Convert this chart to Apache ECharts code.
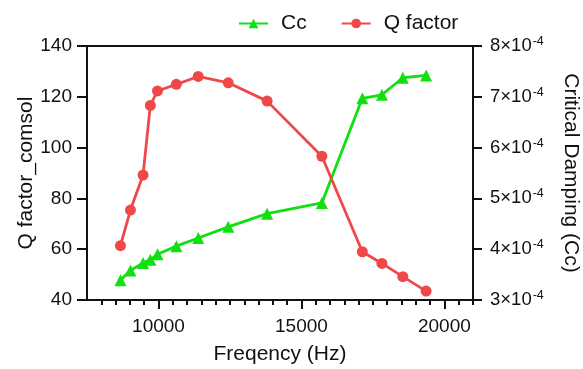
<!DOCTYPE html>
<html>
<head>
<meta charset="utf-8">
<script src="https://cdn.jsdelivr.net/npm/echarts@6/dist/echarts.min.js"></script>
<style>
  html, body { margin: 0; padding: 0; background: #fff; }
  #chart { width: 583px; height: 369px; }
</style>
</head>
<body>
<div id="chart"></div>
<script>
// Measured frequencies (Hz) shared by both series
const frequency = [8670, 9020, 9460, 9715, 9965, 10625, 11390, 12440, 13800, 15714, 17130, 17815, 18545, 19360];
// Q factor from the COMSOL model (left axis)
const qFactor = [61.4, 75.4, 89.2, 116.6, 122.3, 124.9, 128.0, 125.5, 118.3, 96.6, 59.0, 54.4, 49.2, 43.5];
// Critical damping Cc (right axis)
const criticalDamping = [3.39e-4, 3.58e-4, 3.73e-4, 3.79e-4, 3.90e-4, 4.06e-4, 4.22e-4, 4.44e-4, 4.70e-4, 4.91e-4, 6.97e-4, 7.04e-4, 7.375e-4, 7.42e-4];

// Tick positions on the frequency axis
const freqLabels = [10000, 15000, 20000];
const freqMinorTicks = [];
for (let f = 8000; f <= 21000; f += 500) freqMinorTicks.push(f);

const FONT = '"Liberation Sans", Arial, sans-serif';
const INK = '#111';
const GREEN = '#10e010';
const RED = '#f04848';

const chart = echarts.init(document.getElementById('chart'), null, { renderer: 'canvas' });

const axisLine = { show: true, lineStyle: { color: INK, width: 2 } };

chart.setOption({
  animation: false,
  backgroundColor: '#fff',
  textStyle: { fontFamily: FONT },
  legend: {
    left: 233,
    top: 8,
    itemWidth: 29,
    itemHeight: 12,
    itemGap: 34,
    textStyle: { fontSize: 21, color: INK, fontFamily: FONT, padding: [0, 0, 0, 8] },
    data: ['Cc', 'Q factor']
  },
  grid: {
    left: 87, right: 110, top: 46, bottom: 69,
    outerBoundsMode: 'none',
    containLabel: false,
    show: true, borderColor: INK, borderWidth: 2, backgroundColor: 'transparent'
  },
  xAxis: [
    {
      type: 'value', min: 7500, max: 21000, interval: 500,
      name: 'Freqency (Hz)', nameLocation: 'middle', nameGap: 44, nameMoveOverlap: false,
      nameTextStyle: { fontSize: 21, color: INK, fontFamily: FONT },
      axisLine: axisLine,
      axisTick: { show: true, customValues: freqMinorTicks, length: 5, lineStyle: { color: INK, width: 2 } },
      axisLabel: {
        customValues: freqLabels, fontSize: 19, color: INK, margin: 17, fontFamily: FONT,
        formatter: function (v) { return String(v); }
      },
      splitLine: { show: false }
    },
    {
      type: 'value', min: 7500, max: 21000, interval: 500, position: 'bottom',
      axisLine: { show: false },
      axisTick: { show: true, customValues: freqLabels, length: 9, lineStyle: { color: INK, width: 2 } },
      axisLabel: { show: false },
      splitLine: { show: false }
    }
  ],
  yAxis: [
    {
      type: 'value', min: 40, max: 140, interval: 20, position: 'left',
      name: 'Q factor_comsol', nameLocation: 'middle', nameGap: 50, nameRotate: 90, nameMoveOverlap: false,
      nameTextStyle: { fontSize: 21, color: INK, fontFamily: FONT },
      axisLine: axisLine,
      axisTick: { show: true, length: 10, lineStyle: { color: INK, width: 2 } },
      axisLabel: { fontSize: 19, color: INK, margin: 15, fontFamily: FONT },
      splitLine: { show: false }
    },
    {
      type: 'value', min: 3e-4, max: 8e-4, interval: 1e-4, position: 'right',
      name: 'Critical Damping (Cc)', nameLocation: 'middle', nameGap: 87, nameRotate: -90, nameMoveOverlap: false,
      nameTextStyle: { fontSize: 21, color: INK, fontFamily: FONT },
      axisLine: axisLine,
      axisTick: { show: true, length: 9, lineStyle: { color: INK, width: 2 } },
      axisLabel: {
        margin: 17,
        formatter: function (v) {
          const m = Math.round(v * 1e4);
          return '{a|' + m + '×10}{b|-4}';
        },
        rich: {
          a: { fontSize: 18.5, color: INK, fontFamily: FONT, lineHeight: 22 },
          b: { fontSize: 12.5, color: INK, fontFamily: FONT, verticalAlign: 'top', padding: [0, 0, 9, 1] }
        }
      },
      splitLine: { show: false }
    }
  ],
  series: [
    {
      name: 'Cc', type: 'line', xAxisIndex: 0, yAxisIndex: 1,
      data: frequency.map((f, i) => [f, criticalDamping[i]]),
      symbol: 'triangle', symbolSize: 12,
      lineStyle: { color: GREEN, width: 2.8 },
      itemStyle: { color: GREEN }
    },
    {
      name: 'Q factor', type: 'line', xAxisIndex: 0, yAxisIndex: 0,
      data: frequency.map((f, i) => [f, qFactor[i]]),
      symbol: 'circle', symbolSize: 11,
      lineStyle: { color: RED, width: 2.8 },
      itemStyle: { color: RED }
    }
  ]
});
</script>
</body>
</html>
